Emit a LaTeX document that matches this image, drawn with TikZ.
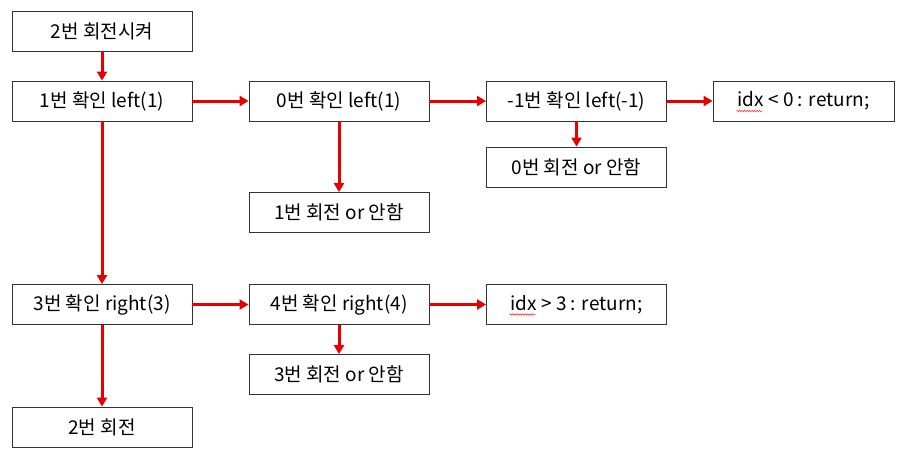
\documentclass[tikz,border=0pt]{standalone}
\usepackage{fontspec}
\setmainfont{Noto Sans CJK KR}
\usepackage{tikz}
\usetikzlibrary{positioning,arrows.meta,decorations.pathmorphing}
\usepackage{xcolor}
\definecolor{flowred}{RGB}{232,0,0}

\begin{document}
\begin{tikzpicture}[x=1pt,y=-1pt,>={Triangle[length=9pt,width=10pt]},
  stepbox/.style={draw=black!80,line width=0.9pt,fill=white,minimum width=180pt,minimum height=40pt,inner sep=2pt,font=\fontsize{19}{21}\selectfont},
  flow/.style={->,draw=flowred,fill=flowred,line width=3pt},
  spellwave/.style={draw=red!85,line width=0.5pt,decorate,decoration={zigzag,amplitude=0.8pt,segment length=2.5pt}}]
\useasboundingbox (0,0) rectangle (900,458);
\node[stepbox] (start) at (102,31) {2번 회전시켜};
\node[stepbox] (chk1) at (102,101) {1번 확인 left(1)};
\node[stepbox] (chk0) at (339,101) {0번 확인 left(1)};
\node[stepbox] (chkm1) at (576.5,101) {-1번 확인 left(-1)};
\node[stepbox,minimum width=181pt] (retlo) at (803.5,101) {idx < 0 : return;};
\node[stepbox] (rot0) at (576.5,167) {0번 회전 or 안함};
\node[stepbox] (rot1) at (339,212.5) {1번 회전 or 안함};
\node[stepbox] (chk3) at (102,304.5) {3번 확인 right(3)};
\node[stepbox] (chk4) at (339,304.5) {4번 확인 right(4)};
\node[stepbox] (rethi) at (576.5,304.5) {idx > 3 : return;};
\node[stepbox] (rot3) at (339,374.5) {3번 회전 or 안함};
\node[stepbox] (rot2) at (102,427) {2번 회전};
% spell check marks under idx
\draw[spellwave] ([xshift=-67pt,yshift=-10pt]retlo.center) -- ++(26pt,0);
\draw[spellwave] ([xshift=-67pt,yshift=-10pt]rethi.center) -- ++(26pt,0);
% left branch
\draw[flow] (start) -- (chk1);
\draw[flow] (chk1) -- (chk0);
\draw[flow] (chk0) -- (chkm1);
\draw[flow] (chkm1) -- (retlo);
\draw[flow] (chkm1) -- (rot0);
\draw[flow] (chk0) -- (rot1);
% right branch
\draw[flow] (chk1) -- (chk3);
\draw[flow] (chk3) -- (chk4);
\draw[flow] (chk4) -- (rethi);
\draw[flow] (chk4) -- (rot3);
\draw[flow] (chk3) -- (rot2);
\end{tikzpicture}
\end{document}
